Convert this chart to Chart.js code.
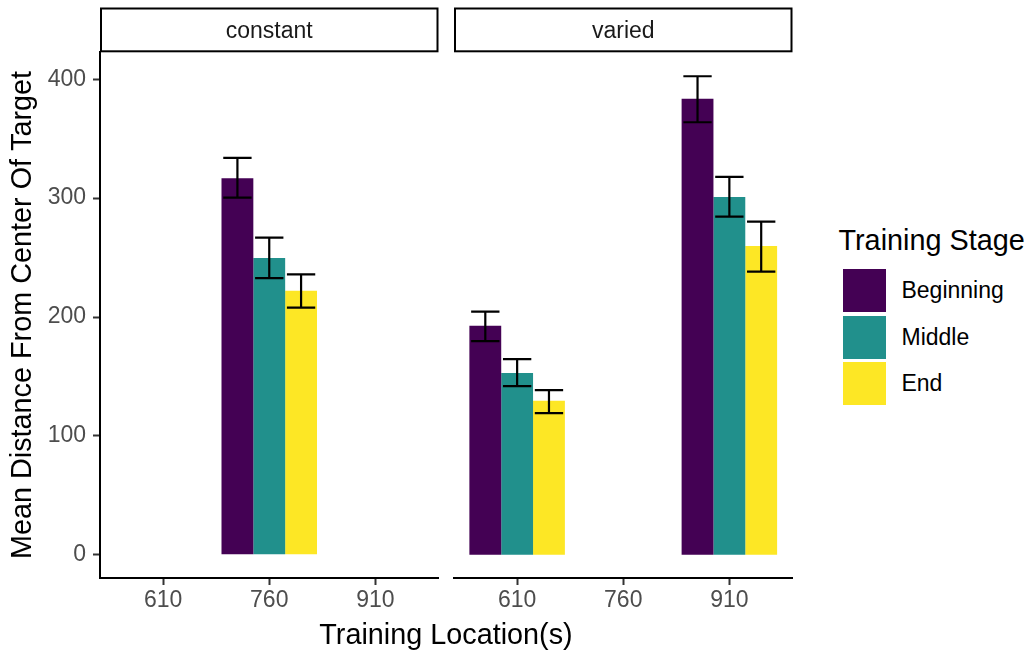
<!DOCTYPE html>
<html><head><meta charset="utf-8">
<script src="https://cdn.jsdelivr.net/npm/chart.js@4.4.1/dist/chart.umd.min.js"></script>
<style>
html,body{margin:0;padding:0;background:#fff;}
#wrap{position:relative;width:1028px;height:651px;overflow:hidden;font-family:"Liberation Sans",Arial,sans-serif;background:#fff;}
canvas{position:absolute;top:0;}
#cA{left:0px;}
#cB{left:440px;}
#xtitle{position:absolute;left:100px;width:692px;top:619.9px;text-align:center;font-size:28.8px;line-height:28.8px;color:#000;white-space:nowrap;}
#ltitle{position:absolute;left:838.5px;top:225.6px;font-size:28.8px;line-height:28.8px;color:#000;white-space:nowrap;}
.lrow{position:absolute;left:842.7px;height:43px;width:180px;}
.lkey{position:absolute;left:0;top:0;width:43.3px;height:43px;}
.llab{position:absolute;left:58.8px;top:0;height:43px;line-height:43px;font-size:23px;color:#000;white-space:nowrap;}
</style></head>
<body><div id="wrap">
<canvas id="cA" width="440" height="651"></canvas>
<canvas id="cB" width="360" height="651"></canvas>
<div id="xtitle"></div>
<div id="ltitle"></div>
<div id="legend"></div>
</div>
<script>
// ---- data ----
const locations = ['610', '760', '910'];
const panels = ['constant', 'varied'];
const stages = ['Beginning', 'Middle', 'End'];
const stageColors = ['#440154', '#21908C', '#FDE725'];
const yTicks = [0, 100, 200, 300, 400];
const xTitle = 'Training Location(s)';
const yTitle = 'Mean Distance From Center Of Target';
const legendTitle = 'Training Stage';

// constant panel: means and error-bar limits
const constantBeginning = [null, 316.8, null];
const constantMiddle    = [null, 249.7, null];
const constantEnd       = [null, 222.0, null];
const constantBeginningLow  = [null, 300.4, null];
const constantBeginningHigh = [null, 333.8, null];
const constantMiddleLow     = [null, 232.7, null];
const constantMiddleHigh    = [null, 266.7, null];
const constantEndLow        = [null, 207.9, null];
const constantEndHigh       = [null, 235.9, null];

// varied panel: means and error-bar limits
const variedBeginning = [192.6, null, 383.5];
const variedMiddle    = [153.0, null, 301.0];
const variedEnd       = [129.5, null, 259.8];
const variedBeginningLow  = [179.7, null, 363.8];
const variedBeginningHigh = [204.6, null, 402.5];
const variedMiddleLow     = [141.9, null, 284.5];
const variedMiddleHigh    = [164.6, null, 317.9];
const variedEndLow        = [119.2, null, 238.2];
const variedEndHigh       = [138.5, null, 280.2];

// axis limits
const yMin = -19.5;
const yMax = 422.9;
const xMin = 0.405;
const xMax = 3.595;

// ---- build ----
Chart.defaults.font.family = '"Liberation Sans", Arial, sans-serif';

function makeDatasets(means, lows, highs) {
  return stages.map((s, k) => ({
    label: s,
    backgroundColor: stageColors[k],
    borderWidth: 0,
    data: means[k].map((v, i) => v == null ? null : { x: i + 1, y: v, lo: lows[k][i], hi: highs[k][i] })
                  .filter(p => p !== null)
  }));
}

const stripPlugin = {
  id: 'strip',
  afterDraw(chart, args, opts) {
    const ctx = chart.ctx, a = chart.chartArea;
    ctx.save();
    ctx.strokeStyle = '#000';
    ctx.lineWidth = 2;
    ctx.strokeRect(a.left + 1, 8.5, a.right - a.left - 2, 42.8);
    ctx.fillStyle = '#1A1A1A';
    ctx.font = '23px "Liberation Sans", Arial, sans-serif';
    ctx.textAlign = 'center';
    ctx.textBaseline = 'alphabetic';
    ctx.fillText(opts.text, (a.left + a.right) / 2, 38.3);
    ctx.restore();
  }
};

const errorBarPlugin = {
  id: 'errbars',
  afterDatasetsDraw(chart) {
    const ctx = chart.ctx, ys = chart.scales.y;
    ctx.save();
    ctx.strokeStyle = '#000';
    ctx.lineWidth = 2.2;
    chart.data.datasets.forEach((ds, di) => {
      const meta = chart.getDatasetMeta(di);
      meta.data.forEach((el, j) => {
        const raw = ds.data[j];
        const x = el.x;
        const half = el.width * 0.445;
        const yl = ys.getPixelForValue(raw.lo);
        const yh = ys.getPixelForValue(raw.hi);
        ctx.beginPath();
        ctx.moveTo(x, yl); ctx.lineTo(x, yh);
        ctx.moveTo(x - half, yl); ctx.lineTo(x + half, yl);
        ctx.moveTo(x - half, yh); ctx.lineTo(x + half, yh);
        ctx.stroke();
      });
    });
    ctx.restore();
  }
};

function xScale() {
  return {
    type: 'linear',
    offset: false,
    min: xMin, max: xMax,
    afterBuildTicks: s => { s.ticks = locations.map((l, i) => ({ value: i + 1 })); },
    afterFit: s => { s.height = 73; },
    ticks: {
      callback: (v, i) => locations[i],
      font: { size: 23 }, color: '#4D4D4D', padding: 1.5,
      maxRotation: 0, autoSkip: false
    },
    grid: { offset: false, drawOnChartArea: false, drawTicks: true, tickLength: 7, tickWidth: 2, tickColor: '#333333', color: 'rgba(0,0,0,0)' },
    border: { display: true, color: '#000', width: 2 }
  };
}

function yScale(show) {
  return {
    display: show,
    min: yMin, max: yMax,
    afterBuildTicks: s => { s.ticks = yTicks.map(v => ({ value: v })); },
    afterFit: s => { if (show) s.width = 100; },
    ticks: { font: { size: 23 }, color: '#4D4D4D', padding: 7 },
    grid: { drawOnChartArea: false, drawTicks: true, tickLength: 7, tickWidth: 2, tickColor: '#333333', color: 'rgba(0,0,0,0)' },
    border: { display: true, color: '#000', width: 2 },
    title: { display: true, text: yTitle, color: '#000', font: { size: 28.8 }, padding: { top: 6, bottom: 0 } }
  };
}

function makeChart(id, panelIdx, datasets, padding, showY) {
  return new Chart(document.getElementById(id), {
    type: 'bar',
    data: { datasets },
    options: {
      responsive: false,
      animation: false,
      devicePixelRatio: 1,
      layout: { padding },
      datasets: { bar: { categoryPercentage: 0.9, barPercentage: 1.0, grouped: true } },
      plugins: { legend: { display: false }, tooltip: { enabled: false }, strip: { text: panels[panelIdx] } },
      scales: { x: xScale(), y: yScale(showY) }
    },
    plugins: [stripPlugin, errorBarPlugin]
  });
}

makeChart('cA', 0,
  makeDatasets([constantBeginning, constantMiddle, constantEnd],
               [constantBeginningLow, constantMiddleLow, constantEndLow],
               [constantBeginningHigh, constantMiddleHigh, constantEndHigh]),
  { top: 52, left: 0, right: 1.5, bottom: 0 }, true);

makeChart('cB', 1,
  makeDatasets([variedBeginning, variedMiddle, variedEnd],
               [variedBeginningLow, variedMiddleLow, variedEndLow],
               [variedBeginningHigh, variedMiddleHigh, variedEndHigh]),
  { top: 52, left: 14, right: 7.5, bottom: 0 }, false);

// titles and legend
document.getElementById('xtitle').textContent = xTitle;
document.getElementById('ltitle').textContent = legendTitle;
const legend = document.getElementById('legend');
stages.forEach((s, k) => {
  const row = document.createElement('div');
  row.className = 'lrow';
  row.style.top = (269 + k * 46.65) + 'px';
  const key = document.createElement('div');
  key.className = 'lkey';
  key.style.background = stageColors[k];
  const lab = document.createElement('div');
  lab.className = 'llab';
  lab.textContent = s;
  row.appendChild(key); row.appendChild(lab);
  legend.appendChild(row);
});
</script>
</body></html>
